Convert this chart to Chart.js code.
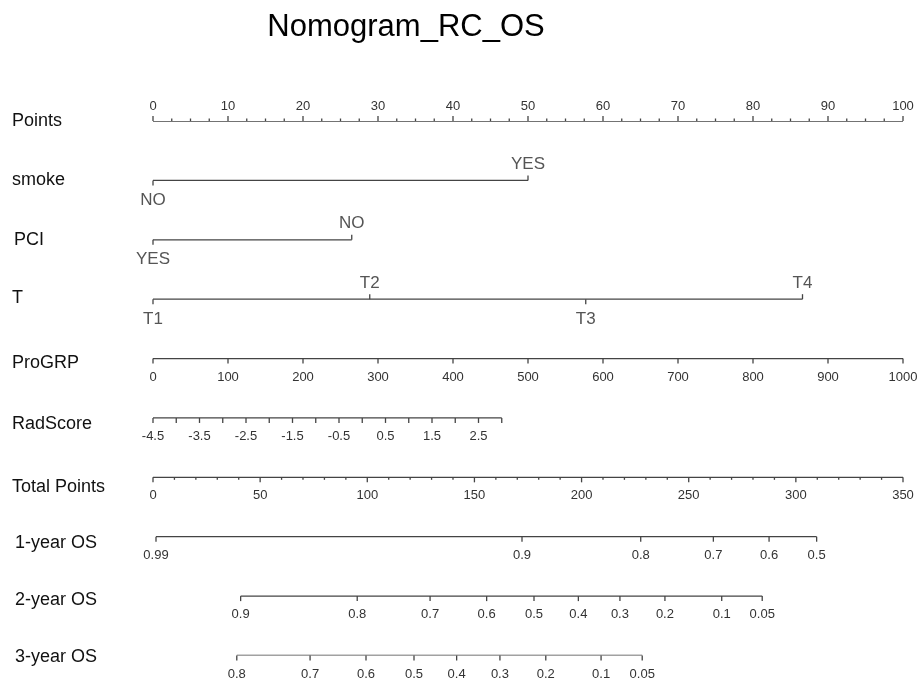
<!DOCTYPE html>
<html>
<head>
<meta charset="utf-8">
<script src="https://cdn.jsdelivr.net/npm/chart.js@4/dist/chart.umd.min.js"></script>
<style>
  html, body { margin: 0; padding: 0; background: #fff; }
  canvas { display: block; }
</style>
</head>
<body>
<canvas id="c" width="921" height="683"></canvas>
<script>
// ---------------- DATA ----------------
const chartTitle = 'Nomogram_RC_OS';
const rowNames = ['Points', 'smoke', 'PCI', 'T', 'ProGRP', 'RadScore', 'Total Points', '1-year OS', '2-year OS', '3-year OS'];

const pointsTicks = [0, 10, 20, 30, 40, 50, 60, 70, 80, 90, 100];

const smokeLevels = ['NO', 'YES'];
const smokePoints = [0, 50];

const pciLevels = ['YES', 'NO'];
const pciPoints = [0, 26.5];

const tLevels = ['T1', 'T2', 'T3', 'T4'];
const tPoints = [0, 28.9, 57.7, 86.6];

const progrpTicks = [0, 100, 200, 300, 400, 500, 600, 700, 800, 900, 1000];
const progrpPointsAtMax = 100;   // ProGRP 1000 -> 100 points

const radScoreTicks = [-4.5, -4.0, -3.5, -3.0, -2.5, -2.0, -1.5, -1.0, -0.5, 0.0, 0.5, 1.0, 1.5, 2.0, 2.5, 3.0];
const radScoreLabels = ['-4.5', '-3.5', '-2.5', '-1.5', '-0.5', '0.5', '1.5', '2.5'];
const radScorePointsPerUnit = 6.2;

const totalPointsTicks = [0, 50, 100, 150, 200, 250, 300, 350];
const totalPointsMax = 350;

const os1Probs = ['0.99', '0.9', '0.8', '0.7', '0.6', '0.5'];
const os1Total = [1.4, 172.2, 227.6, 261.5, 287.5, 309.7];

const os2Probs = ['0.9', '0.8', '0.7', '0.6', '0.5', '0.4', '0.3', '0.2', '0.1', '0.05'];
const os2Total = [40.9, 95.3, 129.3, 155.7, 177.8, 198.5, 217.9, 238.9, 265.4, 284.3];

const os3Probs = ['0.8', '0.7', '0.6', '0.5', '0.4', '0.3', '0.2', '0.1', '0.05'];
const os3Total = [39.1, 73.3, 99.4, 121.8, 141.7, 161.9, 183.3, 209.1, 228.3];

// ---------------- MAPPINGS (value -> points) ----------------
const pFromProGRP = v => v / progrpTicks[progrpTicks.length - 1] * progrpPointsAtMax;
const pFromRad = v => (v - radScoreTicks[0]) * radScorePointsPerUnit;
const pFromTotal = t => t / totalPointsMax * 100;

// Build row axis specs
const rows = [
  { ticks: pointsTicks.map(v => ({ p: v, label: String(v), major: true })), side: 'up',
    minor: [].concat(...pointsTicks.slice(0, -1).map(v => [v + 2.5, v + 5, v + 7.5])) },
  { ticks: smokeLevels.map((l, i) => ({ p: smokePoints[i], label: l, alt: i % 2 })), cat: true },
  { ticks: pciLevels.map((l, i) => ({ p: pciPoints[i], label: l, alt: i % 2 })), cat: true },
  { ticks: tLevels.map((l, i) => ({ p: tPoints[i], label: l, alt: i % 2 })), cat: true },
  { ticks: progrpTicks.map(v => ({ p: pFromProGRP(v), label: String(v), major: true })), side: 'down' },
  { ticks: radScoreTicks.map(v => ({ p: pFromRad(v), label: radScoreLabels.includes(v.toFixed(1)) ? v.toFixed(1) : '', major: true })), side: 'down' },
  { ticks: totalPointsTicks.map(v => ({ p: pFromTotal(v), label: String(v), major: true })), side: 'down',
    minor: (() => { const m = []; for (let t = 10; t < totalPointsMax; t += 10) if (t % 50) m.push(pFromTotal(t)); return m; })() },
  { ticks: os1Probs.map((l, i) => ({ p: pFromTotal(os1Total[i]), label: l, major: true })), side: 'down' },
  { ticks: os2Probs.map((l, i) => ({ p: pFromTotal(os2Total[i]), label: l, major: true })), side: 'down' },
  { ticks: os3Probs.map((l, i) => ({ p: pFromTotal(os3Total[i]), label: l, major: true })), side: 'down' }
];

// ---------------- STYLE / LAYOUT ----------------
const lineColor = '#444';
const tickTextColor = '#333';
const levelTextColor = '#555';
const rowLabelOffset = [0, 0, 0, -1, 4, 6, 10, 6, 4, 2];
const rowLabelX = [12, 12, 14, 12, 12, 12, 12, 15, 15, 15];

const datasets = rows.map((r, i) => {
  const ps = r.ticks.map(t => t.p);
  return {
    data: [{ x: Math.min(...ps), y: i }, { x: Math.max(...ps), y: i }],
    showLine: true, borderColor: lineColor, borderWidth: 1.3,
    pointRadius: 0, pointHoverRadius: 0, fill: false
  };
});

const nomoPlugin = {
  id: 'nomo',
  beforeDraw(chart) {
    const ctx = chart.ctx;
    ctx.save();
    ctx.fillStyle = '#fff';
    ctx.fillRect(0, 0, chart.width, chart.height);
    ctx.restore();
  },
  afterDatasetsDraw(chart) {
    const ctx = chart.ctx;
    const xs = chart.scales.x, ys = chart.scales.y;
    ctx.save();
    // title
    ctx.fillStyle = '#000';
    ctx.font = '31px "Liberation Sans", Arial, sans-serif';
    ctx.textAlign = 'center';
    ctx.textBaseline = 'middle';
    ctx.fillText(chartTitle, 406, 27);

    rows.forEach((r, i) => {
      const y = ys.getPixelForValue(i);
      // row label
      ctx.fillStyle = '#111';
      ctx.font = '18px "Liberation Sans", Arial, sans-serif';
      ctx.textAlign = 'left';
      ctx.textBaseline = 'middle';
      ctx.fillText(rowNames[i], rowLabelX[i], y + rowLabelOffset[i]);

      ctx.strokeStyle = lineColor;
      ctx.lineWidth = 1.3;
      if (r.cat) {
        ctx.font = '17px "Liberation Sans", Arial, sans-serif';
        ctx.fillStyle = levelTextColor;
        ctx.textAlign = 'center';
        r.ticks.forEach(t => {
          const x = xs.getPixelForValue(t.p);
          const dir = t.alt ? -1 : 1;
          ctx.beginPath(); ctx.moveTo(x, y); ctx.lineTo(x, y + dir * 5); ctx.stroke();
          ctx.fillText(t.label, x, y + (t.alt ? -16 : 20));
        });
      } else {
        const dir = r.side === 'up' ? -1 : 1;
        (r.minor || []).forEach(p => {
          const x = xs.getPixelForValue(p);
          ctx.beginPath(); ctx.moveTo(x, y); ctx.lineTo(x, y + dir * 2.5); ctx.stroke();
        });
        ctx.font = '13px "Liberation Sans", Arial, sans-serif';
        ctx.fillStyle = tickTextColor;
        ctx.textAlign = 'center';
        r.ticks.forEach(t => {
          const x = xs.getPixelForValue(t.p);
          ctx.beginPath(); ctx.moveTo(x, y); ctx.lineTo(x, y + dir * 5); ctx.stroke();
          if (t.label) ctx.fillText(t.label, x, y + (dir < 0 ? -15 : 18.5));
        });
      }
    });
    ctx.restore();
  }
};

new Chart(document.getElementById('c'), {
  type: 'scatter',
  data: { datasets },
  options: {
    responsive: false,
    animation: false,
    events: [],
    layout: { padding: { left: 153, right: 18, top: 121, bottom: 27.5 } },
    plugins: { legend: { display: false }, tooltip: { enabled: false }, title: { display: false } },
    scales: {
      x: { type: 'linear', min: 0, max: 100, display: false },
      y: { type: 'linear', min: 0, max: 9, reverse: true, display: false }
    }
  },
  plugins: [nomoPlugin]
});
</script>
</body>
</html>
